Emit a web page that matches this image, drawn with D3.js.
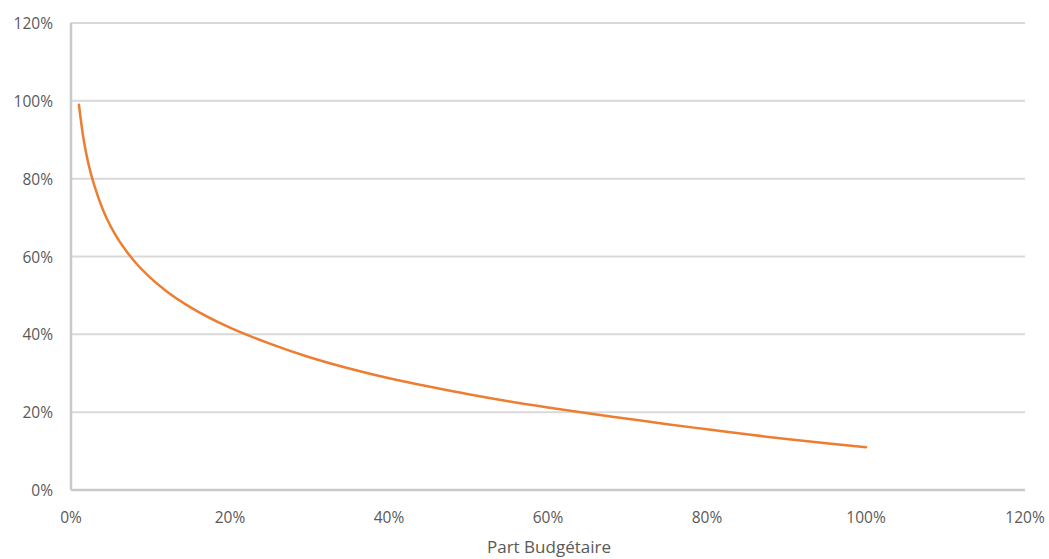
<!DOCTYPE html>
<html>
<head>
<meta charset="utf-8">
<script src="https://cdn.jsdelivr.net/npm/d3@7"></script>
<style>
  html, body { margin: 0; padding: 0; background: #fff; }
  svg { display: block; }
</style>
</head>
<body>
<svg id="chart" width="1049" height="559"></svg>
<script>
// Data (x: budget share %, y: value %)
const budgetShare = [1, 1.5, 2, 2.5, 3, 4, 5, 6, 7, 8, 10, 12, 15, 20, 25, 30, 35, 40, 45, 50, 55, 60, 65, 70, 75, 80, 85, 90, 95, 100];
const curveValues = [99, 91.2, 85.6, 81.3, 77.8, 72.1, 67.7, 64.2, 61.3, 58.7, 54.5, 51.1, 47.0, 41.7, 37.6, 34.1, 31.2, 28.7, 26.6, 24.6, 22.8, 21.2, 19.7, 18.3, 16.9, 15.6, 14.3, 13.1, 12.0, 11.0];
const xTicks = [0, 20, 40, 60, 80, 100, 120];
const yTicks = [0, 20, 40, 60, 80, 100, 120];
const xTitle = "Part Budgétaire";

(function () {
const svg = d3.select("#chart");
const mLeft = 71, mRight = 1025, mTop = 23, mBottom = 490;

const x = d3.scaleLinear().domain([0, 120]).range([mLeft, mRight]);
const y = d3.scaleLinear().domain([0, 120]).range([mBottom, mTop]);

const font = "'Open Sans', 'Liberation Sans', sans-serif";
const labelColor = "#595959";

// gridlines
svg.append("g").selectAll("line").data(yTicks.filter(d => d > 0)).join("line")
  .attr("x1", mLeft).attr("x2", mRight)
  .attr("y1", d => y(d)).attr("y2", d => y(d))
  .attr("stroke", "#d9d9d9").attr("stroke-width", 2);

// axes lines
svg.append("line").attr("x1", mLeft).attr("x2", mRight).attr("y1", mBottom).attr("y2", mBottom)
  .attr("stroke", "#c9c9c9").attr("stroke-width", 2.5);
svg.append("line").attr("x1", mLeft).attr("x2", mLeft).attr("y1", mTop).attr("y2", mBottom)
  .attr("stroke", "#c9c9c9").attr("stroke-width", 2.5);

// y tick labels
svg.append("g").selectAll("text").data(yTicks).join("text")
  .attr("x", 53).attr("y", d => y(d))
  .attr("text-anchor", "end").attr("dominant-baseline", "central")
  .attr("font-family", font).attr("font-size", 15.5).attr("fill", labelColor)
  .text(d => d + "%");

// x tick labels
svg.append("g").selectAll("text").data(xTicks).join("text")
  .attr("x", d => x(d)).attr("y", 517)
  .attr("text-anchor", "middle").attr("dominant-baseline", "central")
  .attr("font-family", font).attr("font-size", 15.5).attr("fill", labelColor)
  .text(d => d + "%");

// x title
svg.append("text")
  .attr("x", 549).attr("y", 553)
  .attr("text-anchor", "middle")
  .attr("font-family", font).attr("font-size", 17).attr("fill", labelColor)
  .text(xTitle);

// line
const pts = budgetShare.map((d, i) => [d, curveValues[i]]);
const line = d3.line().x(d => x(d[0])).y(d => y(d[1])).curve(d3.curveMonotoneX);
svg.append("path").datum(pts)
  .attr("d", line)
  .attr("fill", "none").attr("stroke", "#ED7D31").attr("stroke-width", 2.5)
  .attr("stroke-linecap", "round");
})();
</script>
</body>
</html>
